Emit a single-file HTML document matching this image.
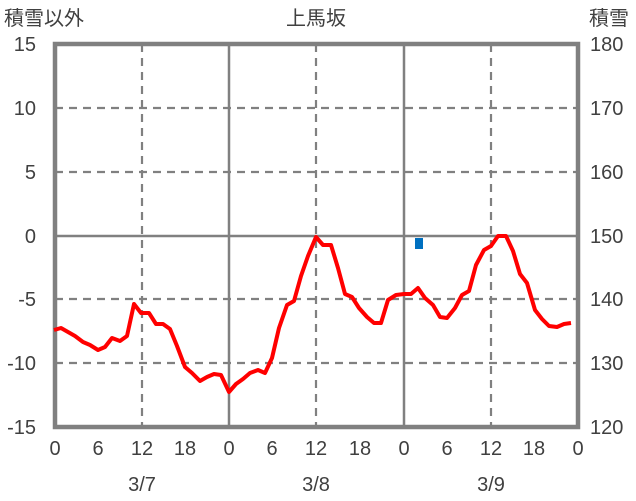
<!DOCTYPE html>
<html><head><meta charset="utf-8"><style>body{margin:0;background:#fff}svg{display:block}text{font-family:"Liberation Sans","Noto Sans CJK JP",sans-serif;fill:#404040;font-size:20px}</style></head><body>
<svg width="636" height="501" viewBox="0 0 636 501">
<g stroke="#808080" stroke-width="2.2" stroke-dasharray="8,6" fill="none">
<line x1="55" y1="108" x2="578" y2="108"/><line x1="55" y1="172" x2="578" y2="172"/>
<line x1="55" y1="299" x2="578" y2="299"/><line x1="55" y1="363" x2="578" y2="363"/>
<line x1="142" y1="44" x2="142" y2="427"/><line x1="316" y1="44" x2="316" y2="427"/><line x1="491" y1="44" x2="491" y2="427"/>
</g>
<g stroke="#808080" stroke-width="2.5">
<line x1="55" y1="236" x2="578" y2="236"/><line x1="229" y1="44" x2="229" y2="427"/><line x1="404" y1="44" x2="404" y2="427"/>
</g>
<rect x="55" y="44" width="523" height="383" fill="none" stroke="#808080" stroke-width="4.5"/>
<rect x="415" y="238" width="8" height="11" fill="#0070c0"/>
<polyline fill="none" stroke="#ff0000" stroke-width="4" stroke-linejoin="round" points="54,330 61,328 68,332 75,336 83,342 90,345 98,350 105,347 112,338 120,341 127,336 134,304 141,313 149,313 156,324 163,324 170,329 177,346 185,367 192,373 200,381 207,377 214,374 221,375 229,392 236,384 243,379 250,373 258,370 265,373 272,358 279,328 287,305 294,301 301,276 308,256 316,237 323,245 331,245 338,268 345,294 352,297 359,308 367,317 374,323 381,323 388,300 396,295 404,294 411,294 418,288 425,298 433,305 440,317 447,318 455,308 462,295 469,291 476,265 484,250 491,246 498,236 506,236 513,251 520,274 527,283 535,310 542,319 549,326 557,327 564,324 571,323"/>
<g text-anchor="end">
<text x="36" y="51">15</text><text x="36" y="115">10</text><text x="36" y="179">5</text><text x="36" y="243">0</text><text x="36" y="306">-5</text><text x="36" y="370">-10</text><text x="36" y="434">-15</text>
</g>
<g text-anchor="start">
<text x="590" y="51">180</text><text x="590" y="115">170</text><text x="590" y="179">160</text><text x="590" y="243">150</text><text x="590" y="306">140</text><text x="590" y="370">130</text><text x="590" y="434">120</text>
</g>
<g text-anchor="middle">
<text x="55" y="455">0</text><text x="98" y="455">6</text><text x="142" y="455">12</text><text x="185" y="455">18</text>
<text x="229" y="455">0</text><text x="272" y="455">6</text><text x="316" y="455">12</text><text x="360" y="455">18</text>
<text x="404" y="455">0</text><text x="447" y="455">6</text><text x="491" y="455">12</text><text x="534" y="455">18</text><text x="578" y="455">0</text>
<text x="142" y="491">3/7</text><text x="316" y="491">3/8</text><text x="491" y="491">3/9</text>
<text x="316" y="25">上馬坂</text>
</g>
<text x="4" y="25">積雪以外</text>
<text x="589" y="25">積雪</text>
</svg>
</body></html>
